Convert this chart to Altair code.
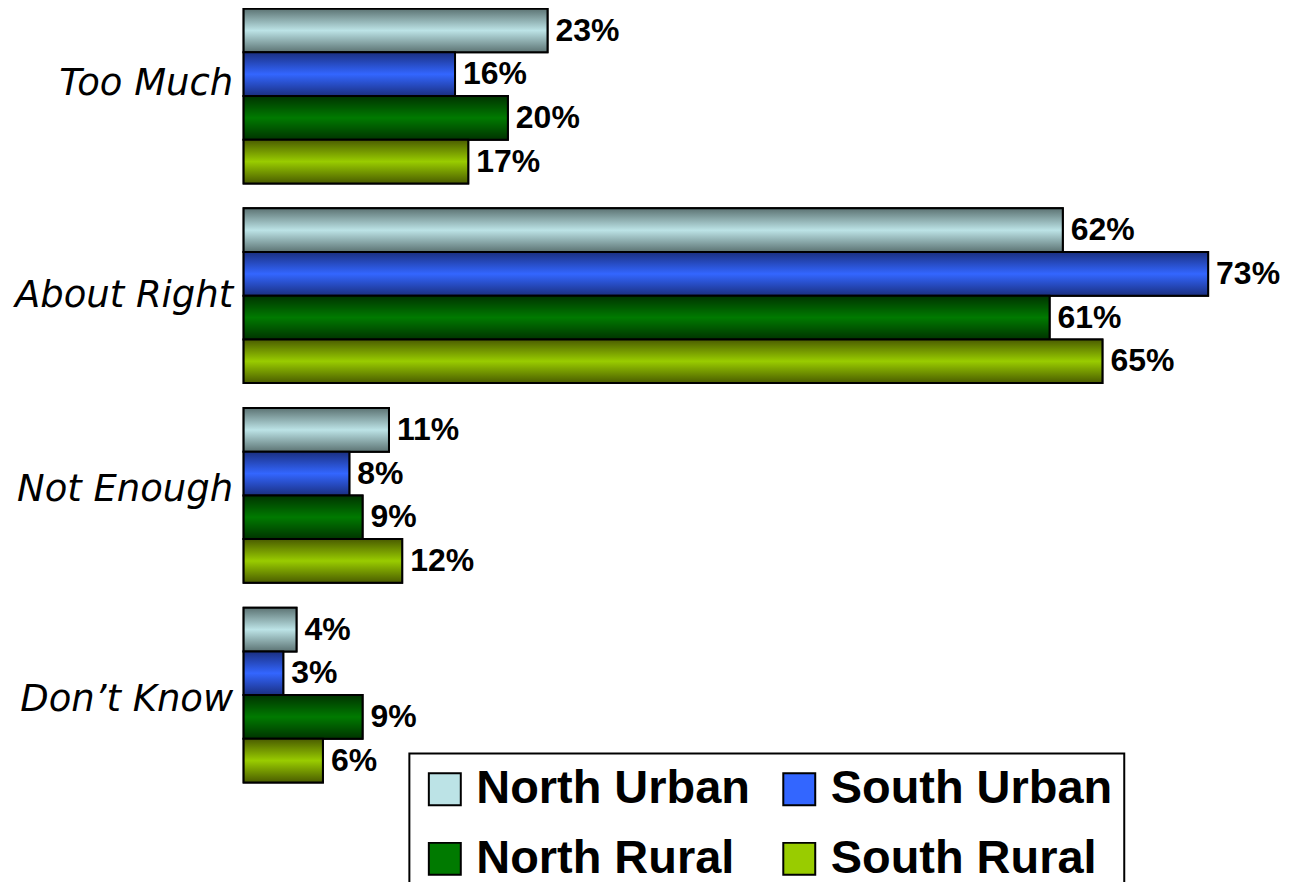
import altair as alt
import pandas as pd

categories = ["Too Much", "About Right", "Not Enough", "Don\u2019t Know"]
series = ["North Urban", "South Urban", "North Rural", "South Rural"]
north_urban = [23, 62, 11, 4]
south_urban = [16, 73, 8, 3]
north_rural = [20, 61, 9, 9]
south_rural = [17, 65, 12, 6]
values_by_series = [north_urban, south_urban, north_rural, south_rural]

mid_colors = ["#bce3e6", "#3366ff", "#007a00", "#99cc00"]
edge_colors = ["#5c7373", "#1a2f80", "#003300", "#4a5c00"]

rows = []
for s, vals in zip(series, values_by_series):
    for c, v in zip(categories, vals):
        rows.append({"category": c, "series": s, "value": v, "label": f"{v}%"})
df = pd.DataFrame(rows)

label_offset = {
    "condition": [
        {"test": "datum.value == 'Too Much'", "value": -12},
        {"test": "datum.value == 'Not Enough'", "value": -5},
        {"test": "datum.value == 'Don\u2019t Know'", "value": 5},
    ],
    "value": 0,
}

base = alt.Chart(df).encode(
    y=alt.Y(
        "category:N",
        sort=categories,
        scale=alt.Scale(paddingInner=0.125, paddingOuter=0),
        axis=alt.Axis(
            title=None, ticks=False, domain=False,
            labelFont="DejaVu Sans", labelFontStyle="italic",
            labelFontSize=37, labelPadding=11, labelColor="black", labelLimit=0,
            labelOffset=label_offset,
        ),
    ),
    yOffset=alt.YOffset(
        "series:N", sort=series,
        scale=alt.Scale(domain=series, paddingInner=0, paddingOuter=0),
    ),
    x=alt.X("value:Q", scale=alt.Scale(domain=[0, 73], nice=False, zero=True), axis=None),
)

legend_layer = base.mark_bar(stroke="black", strokeWidth=2).encode(
    color=alt.Color(
        "series:N",
        scale=alt.Scale(domain=series, range=mid_colors),
        legend=alt.Legend(
            title=None, orient="none", legendX=166, legendY=746,
            direction="horizontal", columns=2, symbolType="square", symbolSize=1024,
            symbolStrokeColor="black", symbolStrokeWidth=2,
            labelFont="Liberation Sans", labelFontWeight="bold",
            labelFontSize=47, labelColor="black", labelOffset=8,
            labelLimit=0, columnPadding=25, rowPadding=22, padding=12,
            strokeColor="black", fillColor="white",
        ),
    )
)

layers = [legend_layer]
for s, mid, edge in zip(series, mid_colors, edge_colors):
    grad = alt.LinearGradient(
        gradient="linear", x1=0, y1=0, x2=0, y2=1,
        stops=[
            alt.GradientStop(offset=0, color=edge),
            alt.GradientStop(offset=0.5, color=mid),
            alt.GradientStop(offset=1, color=edge),
        ],
    )
    layers.append(
        base.transform_filter(alt.datum.series == s).mark_bar(
            fill=grad, stroke="black", strokeWidth=2
        )
    )

text_layer = base.mark_text(
    align="left", baseline="middle", dx=8,
    font="Liberation Sans", fontWeight="bold", fontSize=32, color="black",
).encode(text="label:N")
layers.append(text_layer)

chart = alt.layer(*layers).properties(
    width=966, height=775,
    autosize=alt.AutoSizeParams(type="none"),
    padding={"left": 236, "top": 0, "right": 75, "bottom": 99},
).configure_view(stroke=None).configure_legend(strokeWidth=2)

chart.save("out.html", embed_options={"renderer": "svg", "actions": False})
